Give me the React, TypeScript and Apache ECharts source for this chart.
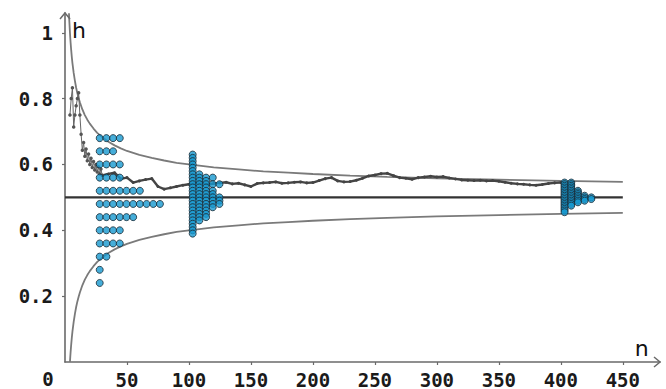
import React, { useEffect, useRef } from 'react';
import * as echarts from 'echarts';

// axis ticks
const xTicks = [50, 100, 150, 200, 250, 300, 350, 400, 450];
const yTicks = [0.2, 0.4, 0.6, 0.8, 1];
const xMax = 480;
const yMax = 1.06;

// bound curves
const upperN = [3.2, 3.5, 4, 4.25, 4.5, 5, 5.5, 6, 7, 8, 9, 10, 11, 12, 14, 16, 18, 20, 23, 26, 30, 35, 40, 45, 50, 60, 70, 80, 90, 100, 120, 140, 160, 180, 200, 230, 260, 300, 350, 400, 450];
const upperBound = [1.059, 1.035, 1.0, 0.985, 0.971, 0.947, 0.926, 0.908, 0.878, 0.854, 0.833, 0.816, 0.802, 0.789, 0.767, 0.75, 0.736, 0.724, 0.709, 0.696, 0.683, 0.669, 0.658, 0.649, 0.641, 0.629, 0.62, 0.612, 0.605, 0.6, 0.591, 0.585, 0.579, 0.575, 0.571, 0.566, 0.562, 0.558, 0.554, 0.55, 0.547];
const lowerN = [4, 4.25, 4.5, 5, 5.5, 6, 7, 8, 9, 10, 11, 12, 14, 16, 18, 20, 23, 26, 30, 35, 40, 45, 50, 60, 70, 80, 90, 100, 120, 140, 160, 180, 200, 230, 260, 300, 350, 400, 450];
const lowerBound = [0.0, 0.015, 0.029, 0.053, 0.074, 0.092, 0.122, 0.146, 0.167, 0.184, 0.198, 0.211, 0.233, 0.25, 0.264, 0.276, 0.291, 0.304, 0.317, 0.331, 0.342, 0.351, 0.359, 0.371, 0.38, 0.388, 0.395, 0.4, 0.409, 0.415, 0.421, 0.425, 0.429, 0.434, 0.438, 0.442, 0.446, 0.45, 0.453];

// reference line h = 0.5
const refN = [0, 450];
const refH = [0.5, 0.5];

// relative frequency walk, early part
const walkEarlyN = [4, 5, 6, 7, 8, 9, 10, 11, 12, 13, 14, 15, 16, 17, 18, 19, 20, 21, 22, 23, 24, 25, 26, 27, 28, 29, 30];
const walkEarlyH = [0.75, 0.8, 0.833, 0.714, 0.75, 0.778, 0.8, 0.818, 0.75, 0.692, 0.643, 0.667, 0.625, 0.647, 0.611, 0.632, 0.6, 0.619, 0.591, 0.609, 0.583, 0.6, 0.577, 0.593, 0.571, 0.586, 0.567];
// later part
const walkLateN = [30, 35, 40, 45, 50, 55, 60, 65, 70, 75, 80, 85, 90, 95, 100, 105, 110, 115, 120, 125, 130, 135, 140, 145, 150, 155, 160, 165, 170, 175, 180, 185, 190, 195, 200, 205, 210, 215, 220, 225, 230, 235, 240, 245, 250, 255, 260, 265, 270, 275, 280, 285, 290, 295, 300, 305, 310, 315, 320, 325, 330, 335, 340, 345, 350, 355, 360, 365, 370, 375, 380, 385, 390, 395, 400];
const walkLateH = [0.567, 0.571, 0.575, 0.556, 0.56, 0.545, 0.55, 0.554, 0.557, 0.533, 0.525, 0.529, 0.533, 0.537, 0.54, 0.543, 0.545, 0.539, 0.542, 0.544, 0.546, 0.541, 0.543, 0.538, 0.533, 0.542, 0.544, 0.545, 0.547, 0.543, 0.544, 0.546, 0.547, 0.544, 0.545, 0.551, 0.557, 0.56, 0.55, 0.547, 0.548, 0.552, 0.558, 0.565, 0.568, 0.572, 0.573, 0.566, 0.56, 0.558, 0.555, 0.56, 0.562, 0.564, 0.562, 0.563, 0.559, 0.556, 0.553, 0.552, 0.551, 0.552, 0.55, 0.551, 0.549, 0.546, 0.543, 0.541, 0.54, 0.538, 0.537, 0.539, 0.542, 0.544, 0.545];

// dot-plot clusters: sample size position, levels and counts
const clusterAPos = 28;
const clusterALevels = [0.68, 0.64, 0.6, 0.56, 0.52, 0.48, 0.44, 0.4, 0.36, 0.32, 0.28, 0.24];
const clusterACounts = [4, 3, 4, 4, 7, 10, 6, 4, 4, 2, 1, 1];

const clusterBPos = 103;
const clusterBLevels = [0.63, 0.62, 0.61, 0.6, 0.59, 0.58, 0.57, 0.56, 0.55, 0.54, 0.53, 0.52, 0.51, 0.5, 0.49, 0.48, 0.47, 0.46, 0.45, 0.44, 0.43, 0.42, 0.41, 0.4, 0.39];
const clusterBCounts = [1, 1, 1, 1, 1, 1, 2, 4, 3, 5, 3, 4, 4, 5, 5, 5, 4, 3, 3, 3, 2, 1, 1, 1, 1];

const clusterCPos = 403;
const clusterCLevels = [0.545, 0.54, 0.535, 0.53, 0.525, 0.52, 0.515, 0.51, 0.505, 0.5, 0.495, 0.49, 0.485, 0.48, 0.475, 0.47, 0.465, 0.46, 0.455];
const clusterCCounts = [2, 2, 2, 2, 2, 3, 3, 3, 4, 5, 5, 4, 3, 2, 2, 1, 1, 1, 1];

const dotStep = 5.4;

function stack(pos: number, levels: number[], counts: number[]) {
  const out: number[][] = [];
  levels.forEach((lv, i) => {
    for (let k = 0; k < counts[i]; k++) out.push([pos + k * dotStep, lv]);
  });
  return out;
}

const zip = (a: number[], b: number[]) => a.map((v, i) => [v, b[i]]);

export default function App() {
  const ref = useRef<HTMLDivElement>(null);
  useEffect(() => {
    if (!ref.current) return;
    const chart = echarts.init(ref.current, null, { renderer: 'svg' });
    const labelFont = { fontFamily: 'DejaVu Sans Mono', fontSize: 19, fontWeight: 'bold', color: '#1a1a1a' };
    const dotStyle = { color: '#1699cf', borderColor: '#1a2a35', borderWidth: 1 };
    const dots = [
      ...stack(clusterAPos, clusterALevels, clusterACounts),
      ...stack(clusterBPos, clusterBLevels, clusterBCounts),
      ...stack(clusterCPos, clusterCLevels, clusterCCounts),
    ];
    chart.setOption({
      animation: false,
      grid: { left: 65, right: 6, top: 13, bottom: 26 },
      xAxis: {
        type: 'value', min: 0, max: xMax,
        splitLine: { show: false },
        axisLine: { lineStyle: { color: '#6a6a6a', width: 1.6 } },
        axisTick: { customValues: xTicks, length: 3, lineStyle: { color: '#6a6a6a', width: 1.2 } },
        axisLabel: { customValues: xTicks, margin: 8, ...labelFont },
      },
      yAxis: {
        type: 'value', min: 0, max: yMax,
        splitLine: { show: false },
        axisLine: { lineStyle: { color: '#6a6a6a', width: 1.6 } },
        axisTick: { customValues: yTicks, length: 3, lineStyle: { color: '#6a6a6a', width: 1.2 } },
        axisLabel: { customValues: yTicks, margin: 12, formatter: (v: number) => String(Number(v.toFixed(2))), ...labelFont },
      },
      series: [
        {
          type: 'line', data: zip(upperN, upperBound), showSymbol: false, clip: true,
          lineStyle: { color: '#7a7a7a', width: 1.8 }, silent: true,
        },
        {
          type: 'line', data: zip(lowerN, lowerBound), showSymbol: false,
          lineStyle: { color: '#7a7a7a', width: 1.8 }, silent: true,
        },
        {
          type: 'line', data: zip(refN, refH), showSymbol: false,
          lineStyle: { color: '#333', width: 2.2 }, silent: true,
        },
        {
          type: 'line', data: zip(walkEarlyN, walkEarlyH), symbol: 'circle', symbolSize: 3.5,
          lineStyle: { color: '#666', width: 1 }, itemStyle: { color: '#555' }, silent: true,
        },
        {
          type: 'line', data: zip(walkLateN, walkLateH), symbol: 'circle', symbolSize: 3,
          lineStyle: { color: '#444', width: 2.4 }, itemStyle: { color: '#444' }, silent: true,
        },
        {
          type: 'scatter', data: dots, symbol: 'circle', symbolSize: 7, itemStyle: dotStyle, z: 5, silent: true,
        },
        {
          type: 'custom', data: [[0, 0]], clip: false, silent: true, z: 6,
          renderItem: (_p: any, api: any) => {
            const xe = api.coord([xMax, 0]);
            const ye = api.coord([0, yMax]);
            const o = api.coord([0, 0]);
            const one = api.coord([0, 1]);
            const x450 = api.coord([450, 0]);
            const st = { stroke: '#6a6a6a', lineWidth: 1.5, fill: null };
            return {
              type: 'group',
              children: [
                { type: 'polyline', shape: { points: [[xe[0] - 6, xe[1] - 5], [xe[0], xe[1]], [xe[0] - 6, xe[1] + 5]] }, style: st },
                { type: 'polyline', shape: { points: [[ye[0] - 5, ye[1] + 6], [ye[0], ye[1]], [ye[0] + 5, ye[1] + 6]] }, style: st },
                { type: 'text', x: one[0] + 7, y: one[1] - 2, style: { text: 'h', font: '22px "DejaVu Sans"', fill: '#111', align: 'left', verticalAlign: 'middle' } },
                { type: 'text', x: x450[0] + 12, y: x450[1] - 14, style: { text: 'n', font: '22px "DejaVu Sans"', fill: '#111', align: 'left', verticalAlign: 'middle' } },
                { type: 'text', x: o[0] - 17, y: o[1] + 17, style: { text: '0', font: 'bold 19px "DejaVu Sans Mono"', fill: '#1a1a1a', align: 'center', verticalAlign: 'middle' } },
              ],
            };
          },
        },
      ],
    });
    return () => chart.dispose();
  }, []);
  return <div ref={ref} style={{ position: 'absolute', left: 0, top: 0, width: 666, height: 389 }} />;
}
